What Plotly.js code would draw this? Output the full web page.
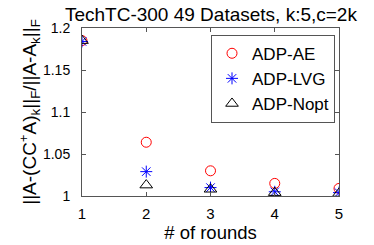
<!DOCTYPE html>
<html><head><meta charset="utf-8">
<script src="https://cdn.plot.ly/plotly-3.0.1.min.js"></script>
<style>body{margin:0;background:#fff}#c{width:374px;height:245px}</style>
</head><body><div id="c"></div>
<script>
var rounds = [1, 2, 3, 4, 5];
var adpAE = [1.185, 1.064, 1.030, 1.015, 1.009];
var adpLVG = [1.184, 1.029, 1.010, 1.005, 1.004];
var adpNopt = [1.185, 1.013, 1.008, 1.004, 1.003];
var names = ['ADP-AE', 'ADP-LVG', 'ADP-Nopt'];
var yTicks = [1, 1.05, 1.1, 1.15, 1.2];
var yTickText = ['1', '1.05', '1.1', '1.15', '1.2'];

var F = 'Liberation Sans, Arial, sans-serif';
var traces = [
  {x: rounds, y: adpAE, name: names[0], mode: 'markers', type: 'scatter',
   marker: {symbol: 'circle-open', size: 10, color: '#ff0000', line: {width: 1}}},
  {x: rounds, y: adpLVG, name: names[1], mode: 'markers', type: 'scatter',
   marker: {symbol: 'asterisk-open', size: 10, color: '#0000ff', line: {width: 1, color: '#0000ff'}}},
  {x: rounds, y: adpNopt, name: names[2], mode: 'markers', type: 'scatter',
   marker: {symbol: 'triangle-up-open', size: 11, color: '#000000', line: {width: 1}}}
];
var layout = {
  width: 374, height: 245,
  margin: {l: 82, r: 35, t: 28, b: 49},
  paper_bgcolor: '#fff', plot_bgcolor: '#fff',
  font: {family: F, size: 14, color: '#000'},
  title: {text: 'TechTC-300 49 Datasets, k:5,c=2k', font: {family: F, size: 19, color: '#000'},
          x: 0.564, xanchor: 'center', y: 0.97, yanchor: 'top'},
  xaxis: {range: [1, 5], tickvals: rounds, ticks: 'inside', ticklen: 4, tickcolor: '#555',
          showline: true, mirror: 'ticks', linecolor: '#555', linewidth: 1, showgrid: false, zeroline: false,
          ticklabelstandoff: 4,
          tickfont: {family: F, size: 15}, title: {text: '# of rounds', font: {family: F, size: 18.5}, standoff: 3}},
  yaxis: {range: [1, 1.2], tickvals: yTicks, ticktext: yTickText,
          ticks: 'inside', ticklen: 4, tickcolor: '#555',
          showline: true, mirror: 'ticks', linecolor: '#555', linewidth: 1, showgrid: false, zeroline: false,
          ticklabelstandoff: 8,
          tickfont: {family: F, size: 14},
          title: {text: '||A-(CC<sup>+</sup>A)<sub>k</sub>||<sub>F</sub>/||A-A<sub>k</sub>||<sub>F</sub>', font: {family: F, size: 19}, standoff: 0}},
  legend: {x: 0.502, xanchor: 'left', y: 0.96, yanchor: 'top', bgcolor: '#fff', bordercolor: '#555', borderwidth: 1,
           font: {family: F, size: 17}, tracegroupgap: 0, itemwidth: 30},
  showlegend: true
};
Plotly.newPlot('c', traces, layout, {displayModeBar: false, staticPlot: true});
</script></body></html>
